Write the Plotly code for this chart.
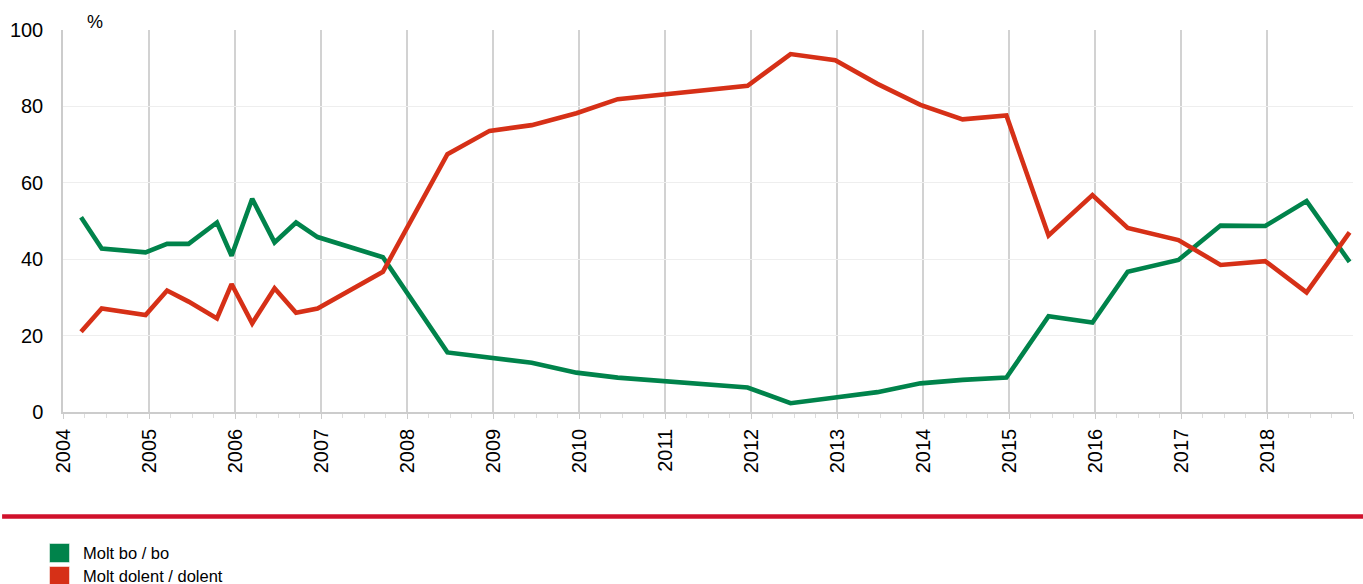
import plotly.graph_objects as go

# Survey dates (decimal years)
survey_dates = [2004.21, 2004.45, 2004.96, 2005.21, 2005.46, 2005.79, 2005.96, 2006.20,
                2006.46, 2006.71, 2006.96, 2007.72, 2008.47, 2008.96, 2009.45, 2009.97,
                2010.45, 2011.96, 2012.46, 2012.98, 2013.47, 2013.97, 2014.46, 2014.97,
                2015.46, 2015.97, 2016.38, 2016.97, 2017.46, 2017.98, 2018.46, 2018.96]

molt_bo = [51.0, 42.8, 41.8, 44.0, 44.0, 49.6, 40.9, 55.8, 44.4, 49.6, 45.8, 40.5,
           15.6, 14.3, 12.9, 10.3, 9.0, 6.4, 2.3, 3.8, 5.2, 7.5, 8.4, 9.0,
           25.1, 23.4, 36.7, 39.8, 48.8, 48.7, 55.2, 39.3]

molt_dolent = [21.0, 27.1, 25.4, 31.8, 28.9, 24.5, 33.5, 23.2, 32.4, 26.0, 27.1, 36.7,
               67.5, 73.6, 75.1, 78.2, 81.9, 85.4, 93.7, 92.1, 85.9, 80.4, 76.6, 77.6,
               46.2, 56.8, 48.2, 45.0, 38.5, 39.5, 31.3, 47.0]

series_names = ["Molt bo / bo", "Molt dolent / dolent"]
series_colors = ["#00834B", "#D63017"]

year_ticks = list(range(2004, 2020))
year_labels = [str(y) for y in range(2004, 2019)] + [""]
y_ticks = [0, 20, 40, 60, 80, 100]

FONT = "Liberation Sans, Arial, sans-serif"

fig = go.Figure()
for vals, name, col in zip([molt_bo, molt_dolent], series_names, series_colors):
    fig.add_trace(go.Scatter(x=survey_dates, y=vals, mode="lines", name=name,
                             line=dict(color=col, width=4.6), showlegend=False))

# plot area geometry (px) for paper-coordinate conversions
L, R, T, B = 61, 10, 30, 172
W, H = 1363, 584
pw = W - L - R
ph = H - T - B

def px_x(x):
    return (x - L) / pw

def px_y(y):
    return (H - B - y) / ph

shapes = [
    dict(type="line", xref="paper", yref="paper", x0=px_x(0), x1=px_x(W),
         y0=px_y(516.5), y1=px_y(516.5), line=dict(color="#D0112B", width=4.5)),
]
annotations = [
    dict(text="%", xref="paper", yref="paper", x=px_x(93), y=px_y(22),
         showarrow=False, font=dict(size=18, color="#000", family=FONT),
         xanchor="center", yanchor="middle"),
]
legend_rows = [553, 576]
for name, col, yc in zip(series_names, series_colors, legend_rows):
    shapes.append(dict(type="rect", xref="paper", yref="paper",
                       x0=px_x(47.5), x1=px_x(67.5), y0=px_y(yc - 9.5), y1=px_y(yc + 9.5),
                       fillcolor=col, line=dict(color="rgba(255,255,255,0.5)", width=1)))
    annotations.append(dict(text=name, xref="paper", yref="paper", x=px_x(79), y=px_y(yc),
                            showarrow=False, xanchor="left", yanchor="middle",
                            font=dict(size=16.5, color="#000", family=FONT)))

fig.update_layout(
    width=W, height=H,
    margin=dict(l=L, r=R, t=T, b=B, pad=0),
    paper_bgcolor="white", plot_bgcolor="white",
    font=dict(family=FONT, size=20, color="#000"),
    shapes=shapes, annotations=annotations,
    showlegend=False,
    xaxis=dict(range=[2004, 2019], tickmode="array", tickvals=year_ticks, ticktext=year_labels,
               tickangle=-90, showgrid=True, gridcolor="#d2d2d2", gridwidth=1.5,
               showline=True, linecolor="#cccccc", linewidth=1.5,
               ticks="outside", ticklen=5, tickcolor="#cccccc", tickwidth=1,
               minor=dict(tick0=2004, dtick=0.25, ticks="outside", ticklen=4,
                          tickcolor="#dddddd", showgrid=False),
               tickfont=dict(size=20), zeroline=False, ticklabelstandoff=2),
    yaxis=dict(range=[0, 100], tickvals=y_ticks, showgrid=True, gridcolor="#eeeeee",
               gridwidth=1, showline=True, linecolor="#cccccc", linewidth=1.5,
               zeroline=False, ticks="", tickfont=dict(size=20), ticklabelstandoff=14),
)

fig.write_html("out.html", config={"displayModeBar": False},
               post_script="document.body.style.margin='0';document.body.style.padding='0';"
                           "document.body.style.overflow='hidden';")
